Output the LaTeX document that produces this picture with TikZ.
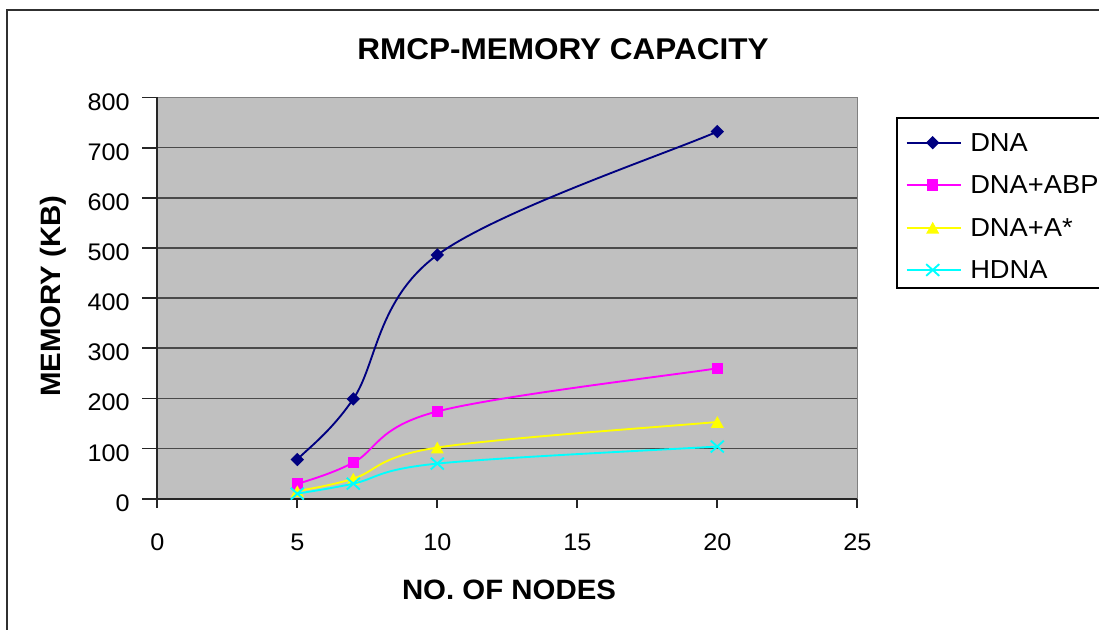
\documentclass[tikz,border=0pt]{standalone}
\usepackage{fontspec}
\setmainfont{Liberation Sans}[FakeStretch=1.05]
\definecolor{dnablue}{HTML}{000080}
\definecolor{abpmag}{HTML}{FF00FF}
\definecolor{astaryel}{HTML}{FFFF00}
\definecolor{hdnacyan}{HTML}{00FFFF}
\definecolor{plotgrey}{HTML}{C0C0C0}
\definecolor{gridgrey}{HTML}{4A4A4A}
\definecolor{edgegrey}{HTML}{808080}
\definecolor{framegrey}{HTML}{303030}
\tikzset{
  ticklab/.style={font=\fontsize{18}{18}\selectfont, inner sep=0pt},
  legtext/.style={font=\fontsize{19.5}{19.5}\selectfont, inner sep=0pt, anchor=base west},
  axtitle/.style={font=\fontsize{21}{21}\selectfont\bfseries, inner sep=0pt, anchor=base},
  gridline/.style={draw=gridgrey, line width=1.2pt},
  axisline/.style={draw=black!85, line width=1.3pt},
  dnaline/.style={draw=dnablue, line width=1.4pt},
  abpline/.style={draw=abpmag, line width=1.4pt},
  astarline/.style={draw=astaryel, line width=1.4pt},
  hdnaline/.style={draw=hdnacyan, line width=1.4pt},
  mkdiamond/.pic={\fill[dnablue] (0pt,5pt) -- (5pt,0pt) -- (0pt,-5pt) -- (-5pt,0pt) -- cycle;},
  mksquare/.pic={\fill[abpmag] (-4.25pt,-4.25pt) rectangle (4.25pt,4.25pt);},
  mktriangle/.pic={\fill[astaryel] (-4.9pt,-4.4pt) -- (4.9pt,-4.4pt) -- (0pt,4.4pt) -- cycle;},
  mkcross/.pic={\draw[hdnacyan, line width=1.4pt] (-4.9pt,-4.4pt) -- (4.9pt,4.4pt) (-4.9pt,4.4pt) -- (4.9pt,-4.4pt);},
}
\begin{document}
\begin{tikzpicture}[x=0.75pt, y=-0.75pt]
\clip (0,0) rectangle (1099,630);
\fill[white] (0,0) rectangle (1099,630);
% chart frame (left and top edges)
\draw[framegrey, line width=1.5pt] (7,640) -- (7,10) -- (1110,10);

% title
\node[font=\fontsize{22.5}{22.5}\selectfont\bfseries, inner sep=0pt, anchor=base] (title) at (563,60) {RMCP-MEMORY CAPACITY};

% plot area in data coordinates
\begin{scope}[shift={(117.975pt,-374.025pt)}, x=21pt, y=0.37613pt]
  \fill[plotgrey] (0,0) rectangle (25,800);
  \foreach \v in {100,200,...,700} \draw[gridline] (0,\v) -- (25,\v);
  \draw[edgegrey, line width=1.2pt] (0,800) -- (25,800) -- (25,0);
  \draw[axisline] (0,800) -- (0,0) -- (25,0);
  \foreach \v in {0,100,...,800} {
    \draw[axisline] (0,\v) -- ++(-11.25pt,0pt);
    \node[ticklab, anchor=base east, yshift=-9.4pt] (yl\v) at (-0.975,\v) {\v};
  }
  \foreach \u in {0,5,...,25} {
    \draw[axisline] (\u,0) -- ++(0pt,-6.75pt);
    \node[ticklab, anchor=base, yshift=-38.5pt] (xl\u) at (\u,0) {\u};
  }

  % data points
  \coordinate (d5) at (5,78);   \coordinate (d7) at (7,199);
  \coordinate (d10) at (10,486); \coordinate (d20) at (20,732);
  \coordinate (b5) at (5,29);   \coordinate (b7) at (7,72);
  \coordinate (b10) at (10,174); \coordinate (b20) at (20,260);
  \coordinate (a5) at (5,15);   \coordinate (a7) at (7,40);
  \coordinate (a10) at (10,102); \coordinate (a20) at (20,153);
  \coordinate (h5) at (5,10);   \coordinate (h7) at (7,30);
  \coordinate (h10) at (10,70);  \coordinate (h20) at (20,104);

  % smoothed series
  \draw[dnaline] (d5) .. controls (5.333,98.2) and (6.167,131) .. (d7)
    .. controls (7.833,267) and (7.833,397.2) .. (d10)
    .. controls (12.167,574.8) and (18.333,691) .. (d20);
  \foreach \p in {d5,d7,d10,d20} \pic at (\p) {mkdiamond};

  \draw[abpline] (b5) .. controls (5.333,36.17) and (6.167,47.83) .. (b7)
    .. controls (7.833,96.17) and (7.833,142.67) .. (b10)
    .. controls (12.167,205.33) and (18.333,245.67) .. (b20);
  \foreach \p in {b5,b7,b10,b20} \pic at (\p) {mksquare};

  \draw[astarline] (a5) .. controls (5.333,19.17) and (6.167,25.5) .. (a7)
    .. controls (7.833,54.5) and (7.833,83.17) .. (a10)
    .. controls (12.167,120.83) and (18.333,144.5) .. (a20);
  \foreach \p in {a5,a7,a10,a20} \pic at (\p) {mktriangle};

  \draw[hdnaline] (h5) .. controls (5.333,13.33) and (6.167,20) .. (h7)
    .. controls (7.833,40) and (7.833,57.67) .. (h10)
    .. controls (12.167,82.33) and (18.333,98.33) .. (h20);
  \foreach \p in {h5,h7,h10,h20} \pic at (\p) {mkcross};
\end{scope}

% axis titles
\node[axtitle] (xtitle) at (509,599) {NO. OF NODES};
\node[axtitle, rotate=90] (ytitle) at (60,296) {MEMORY (KB)};

% legend
\draw[black, line width=0.8pt] (897,118) rectangle (1110,288);
\coordinate (l1a) at (906.7,142.7); \coordinate (l1b) at (961,142.7);
\coordinate (l2a) at (906.7,185);   \coordinate (l2b) at (961,185);
\coordinate (l3a) at (906.7,227.7); \coordinate (l3b) at (961,227.7);
\coordinate (l4a) at (906.7,270);   \coordinate (l4b) at (961,270);
\draw[dnaline] (l1a) -- (l1b);   \pic at (932.7,142.7) {mkdiamond};
\draw[abpline] (l2a) -- (l2b);   \pic at (932.7,185) {mksquare};
\draw[astarline] (l3a) -- (l3b); \pic at (932.7,227.7) {mktriangle};
\draw[hdnaline] (l4a) -- (l4b);  \pic at (932.7,270) {mkcross};
\node[legtext] (t1) at (970,151.7) {DNA};
\node[legtext] (t2) at (970,194) {DNA+ABP};
\node[legtext] (t3) at (970,236.7) {DNA+A*};
\node[legtext] (t4) at (970,279) {HDNA};
\end{tikzpicture}
\end{document}
